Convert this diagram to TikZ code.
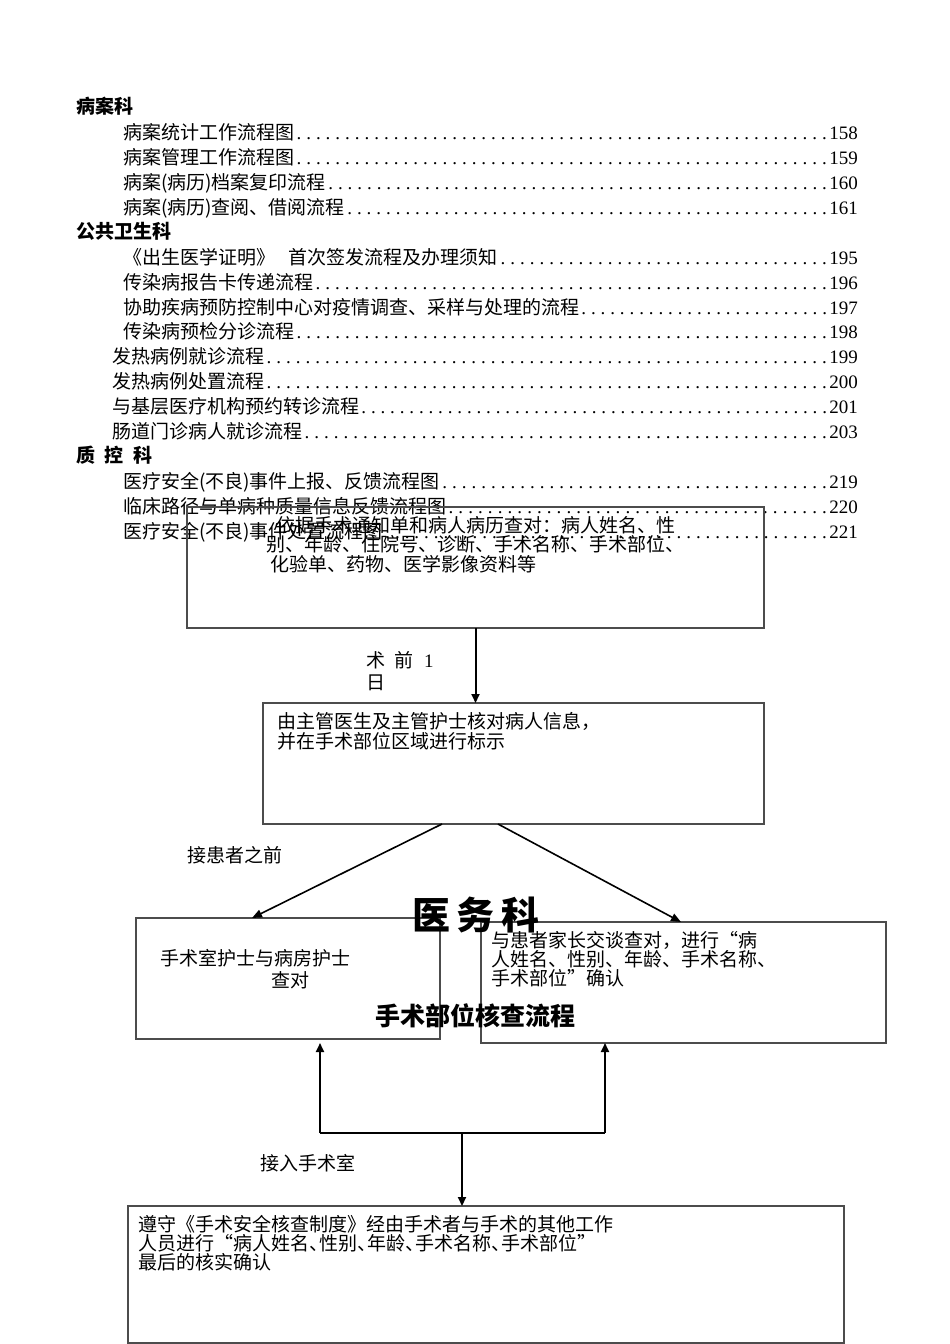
\documentclass[tikz,border=0pt]{standalone}
\usepackage{fontspec}
\setmainfont{Liberation Serif}
\newfontfamily\cjk{Noto Sans CJK SC}
\usetikzlibrary{arrows.meta}
\newcommand\tocline[5]{\node[anchor=base west] (#1) at (#2,#3+7) {\makebox[\dimexpr858pt-#2pt\relax][l]{#4\rmfamily\xleaders\hbox to 9.6pt{\hss.\hss}\hfill#5}};}
\newcommand\dun{\makebox[10pt][l]{、}}
\begin{document}
\begin{tikzpicture}[x=1pt,y=-1pt,
  every node/.style={inner sep=0pt,outer sep=0pt,font=\cjk\fontsize{19}{19}\selectfont},
  box/.style={draw=black!70,line width=1.1pt,anchor=north west,inner sep=0pt},
  txt/.style={anchor=base west,align=left},
  head/.style={anchor=base west,font=\cjk\bfseries\fontsize{19}{19}\selectfont},
  arr/.style={draw=black,line width=2pt,-{Triangle[length=9pt,width=8pt]}},
  darr/.style={draw=black,line width=1.6pt,-{Triangle[length=10pt,width=8pt]}},
  link/.style={draw=black,line width=2.2pt}]
\useasboundingbox (0,0) rectangle (950,1344);

% ---- table of contents ----
\node[head] (h1) at (76,113) {病案科};
\tocline{t1}{123}{132}{病案统计工作流程图}{158}
\tocline{t2}{123}{157}{病案管理工作流程图}{159}
\tocline{t3}{123}{182}{病案(病历)档案复印流程}{160}
\tocline{t4}{123}{207}{病案(病历)查阅、借阅流程}{161}
\node[head] (h2) at (76,238) {公共卫生科};
\tocline{t5}{123}{257}{《出生医学证明》\hspace{14pt}首次签发流程及办理须知}{195}
\tocline{t6}{123}{282}{传染病报告卡传递流程}{196}
\tocline{t7}{123}{307}{协助疾病预防控制中心对疫情调查、采样与处理的流程}{197}
\tocline{t8}{123}{331}{传染病预检分诊流程}{198}
\tocline{t9}{112}{356}{发热病例就诊流程}{199}
\tocline{t10}{112}{381}{发热病例处置流程}{200}
\tocline{t11}{112}{406}{与基层医疗机构预约转诊流程}{201}
\tocline{t12}{112}{431}{肠道门诊病人就诊流程}{203}
\node[head] (h3) at (76,462) {质\hspace{9.5pt}控\hspace{9.5pt}科};
\tocline{t13}{123}{481}{医疗安全(不良)事件上报、反馈流程图}{219}
\tocline{t14}{123}{506}{临床路径与单病种质量信息反馈流程图}{220}
\tocline{t15}{123}{531}{医疗安全(不良)事件处置流程图}{221}

% ---- flowchart boxes ----
\node[box,minimum width=577pt,minimum height=121pt] (b1) at (187,507) {};
\node[box,minimum width=501pt,minimum height=121pt] (b2) at (263,703) {};
\node[box,minimum width=304pt,minimum height=121pt] (b3) at (136,918) {};
\node[box,minimum width=405pt,minimum height=121pt] (b4) at (481,922) {};
\node[box,minimum width=716pt,minimum height=137pt] (b5) at (128,1206) {};

% ---- box texts (base anchor = baseline of last line) ----
\node[txt,font=\cjk\fontsize{19}{19.5}\selectfont] (x1) at (266,571)
  {\hspace*{10pt}依据手术通知单和病人病历查对：病人姓名、性\\别、年龄、住院号、诊断、手术名称、手术部位、\\\hspace*{4pt}化验单、药物、医学影像资料等};
\node[txt,font=\cjk\fontsize{19}{20}\selectfont] (x2) at (277,748)
  {由主管医生及主管护士核对病人信息，\\并在手术部位区域进行标示};
\node[txt,font=\cjk\fontsize{19}{22}\selectfont] (x3) at (160,987)
  {手术室护士与病房护士\\\hspace*{111pt}查对};
\node[txt,font=\cjk\fontsize{19}{19}\selectfont] (x4) at (491,985)
  {与患者家长交谈查对，进行“病\\人姓名、性别、年龄、手术名称、\\手术部位”确认};
\node[txt,font=\cjk\fontsize{19}{19}\selectfont] (x5) at (138,1269)
  {遵守《手术安全核查制度》经由手术者与手术的其他工作\\人员进行“病人姓名\dun 性别\dun 年龄\dun 手术名称\dun 手术部位”\\最后的核实确认};

% ---- titles ----
\node[font=\cjk\bfseries\fontsize{38}{38}\selectfont] (title1) at (476,915) {医\hspace{7pt}务\hspace{7pt}科};
\node[font=\cjk\bfseries\fontsize{25}{25}\selectfont] (title2) at (475,1016) {手术部位核查流程};

% ---- labels ----
\node[txt,font=\cjk\fontsize{19}{22}\selectfont] (l1) at (366,689) {术\hspace{10pt}前\hspace{10pt}{\rmfamily 1}\\日};
\node[anchor=west] (l2) at (187,855) {接患者之前};
\node[anchor=west] (l3) at (260,1163) {接入手术室};

% ---- connectors ----
\draw[arr] (b1.south) -- (b1.south |- b2.north);
\draw[darr] ([xshift=179pt]b2.south west) -- ([xshift=116pt]b3.north west);
\draw[darr] ([xshift=235pt]b2.south west) -- ([xshift=200pt]b4.north west);
\coordinate (jl) at (320,1133);
\coordinate (jr) at (605,1133);
\coordinate (jm) at (462,1133);
\draw[link] (jl) -- (jr);
\draw[arr] (jl) -- ([yshift=-4pt]b3.south -| jl);
\draw[arr] (jr) -- (b4.south -| jr);
\draw[arr] (jm) -- (jm |- b5.north);
\end{tikzpicture}
\end{document}
